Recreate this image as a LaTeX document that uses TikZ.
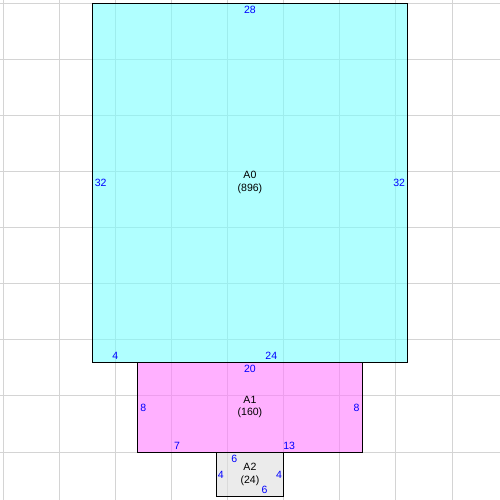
\documentclass[tikz,border=0pt]{standalone}
\usepackage{fontspec}
\setmainfont{Liberation Sans}
\begin{document}
\begin{tikzpicture}[x=0.3cm, y=-0.3cm,
  gridline/.style = {black!17, line width=0.6pt},
  sheetfill/.style = {fill opacity=0.6},
  sheet/.style = {draw=black, line width=0.6pt},
  size/.style = {text=blue, inner sep=0pt, font=\fontsize{8}{9.5}\selectfont},
  sheetname/.style = {inner sep=0pt, align=center, font=\fontsize{8}{9.5}\selectfont}]
\useasboundingbox (-0.267,-0.267) rectangle (44.28,44.28);
% grid
\foreach \i in {0,5,...,40} {
  \draw[gridline] (\i,-1) -- (\i,46);
  \draw[gridline] (-1,\i) -- (46,\i);
}
% sheets
\fill[sheetfill, fill={rgb,255:red,123;green,255;blue,255}] (8,0) rectangle (36,32);
\fill[sheetfill, fill={rgb,255:red,255;green,123;blue,255}] (12,32) rectangle (32,40);
\fill[sheetfill, fill={rgb,255:red,222;green,222;blue,222}] (19,40) rectangle (25,44);
\draw[sheet] (8,0) rectangle (36,32);
\draw[sheet] (12,32) rectangle (32,40);
\draw[sheet] (19,40) rectangle (25,44);
% A0
\node[sheetname] (a0) at (22,16) {A0\\(896)};
\node[size] (a0t) at (22,0.6) {28};
\node[size] (a0l) at (8.7,16) {32};
\node[size] (a0r) at (35.3,16) {32};
\node[size] (a0b1) at (10,31.4) {4};
\node[size] (a0b2) at (23.9,31.4) {24};
% A1
\node[sheetname] (a1) at (22,36) {A1\\(160)};
\node[size] (a1t) at (22,32.6) {20};
\node[size] (a1l) at (12.5,36.1) {8};
\node[size] (a1r) at (31.5,36.1) {8};
\node[size] (a1b1) at (15.5,39.5) {7};
\node[size] (a1b2) at (25.5,39.5) {13};
% A2
\node[sheetname] (a2) at (22,42) {A2\\(24)};
\node[size] (a2t) at (20.6,40.6) {6};
\node[size] (a2l) at (19.4,42) {4};
\node[size] (a2r) at (24.6,42) {4};
\node[size] (a2b) at (23.3,43.4) {6};
\end{tikzpicture}
\end{document}
